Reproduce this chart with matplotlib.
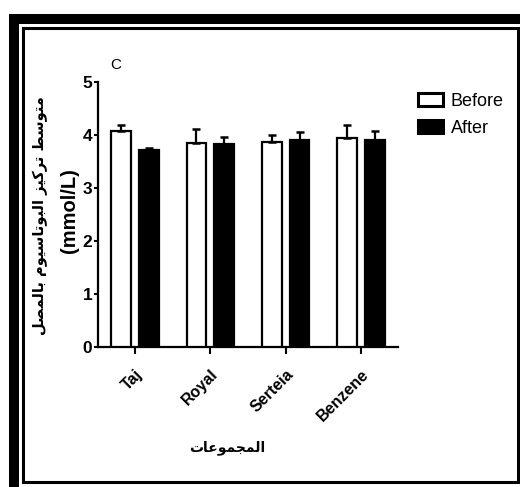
import matplotlib
matplotlib.use("Agg")
import matplotlib.pyplot as plt
import numpy as np
from matplotlib.patches import Rectangle

# data
groups = ["Taj", "Royal", "Serteia", "Benzene"]
before = [4.07, 3.84, 3.87, 3.95]
before_err = [0.12, 0.27, 0.13, 0.24]
after = [3.71, 3.83, 3.91, 3.91]
after_err = [0.05, 0.14, 0.15, 0.17]
series_labels = ["Before", "After"]
ylabel_ar = "متوسط تركيز البوتاسيوم بالمصل"
ylabel_unit = "(mmol/L)"
xlabel_ar = "المجموعات"
panel = "C"

# minimal Arabic shaping: (isolated, final, initial, medial)
FORMS = {
    "ا": (0xFE8D, 0xFE8E, None, None),
    "ب": (0xFE8F, 0xFE90, 0xFE91, 0xFE92),
    "ت": (0xFE95, 0xFE96, 0xFE97, 0xFE98),
    "ج": (0xFE9D, 0xFE9E, 0xFE9F, 0xFEA0),
    "ر": (0xFEAD, 0xFEAE, None, None),
    "ز": (0xFEAF, 0xFEB0, None, None),
    "س": (0xFEB1, 0xFEB2, 0xFEB3, 0xFEB4),
    "ص": (0xFEB9, 0xFEBA, 0xFEBB, 0xFEBC),
    "ط": (0xFEC1, 0xFEC2, 0xFEC3, 0xFEC4),
    "ع": (0xFEC9, 0xFECA, 0xFECB, 0xFECC),
    "ك": (0xFED9, 0xFEDA, 0xFEDB, 0xFEDC),
    "ل": (0xFEDD, 0xFEDE, 0xFEDF, 0xFEE0),
    "م": (0xFEE1, 0xFEE2, 0xFEE3, 0xFEE4),
    "و": (0xFEED, 0xFEEE, None, None),
    "ي": (0xFEF1, 0xFEF2, 0xFEF3, 0xFEF4),
}


def shape_ar(text):
    out = []
    for i, ch in enumerate(text):
        if ch not in FORMS:
            out.append(ch)
            continue
        iso, fin, ini, med = FORMS[ch]
        prev = text[i - 1] if i > 0 else ""
        nxt = text[i + 1] if i + 1 < len(text) else ""
        joins_prev = prev in FORMS and FORMS[prev][2] is not None
        joins_next = nxt in FORMS and ini is not None
        if joins_prev and joins_next:
            code = med
        elif joins_prev:
            code = fin
        elif joins_next:
            code = ini
        else:
            code = iso
        out.append(chr(code))
    return "".join(out)[::-1]


W, H = 520, 487
fig = plt.figure(figsize=(W / 100, H / 100), dpi=100)
ax = fig.add_axes([98 / W, 1 - 347 / H, 300 / W, 265 / H])

x = np.arange(len(groups))
bw = 0.26
off = 0.185
kw = dict(capsize=3.2, error_kw=dict(elinewidth=1.6, capthick=1.8, ecolor="black"),
          edgecolor="black", linewidth=1.6, zorder=3)
b1 = ax.bar(x - off, before, bw, yerr=[np.zeros(4), before_err], color="white",
            label=series_labels[0], **kw)
b2 = ax.bar(x + off, after, bw, yerr=[np.zeros(4), after_err], color="black",
            label=series_labels[1], **kw)

ax.set_xlim(-0.49, 3.49)
ax.set_ylim(0, 5)
ax.set_yticks([0, 1, 2, 3, 4, 5])
ax.set_xticks(x)
ax.set_xticklabels(groups, rotation=45, ha="right", va="top", rotation_mode="anchor",
                   family="Liberation Sans", fontweight="bold", fontsize=11.5)
for lab in ax.get_yticklabels():
    lab.set_family("Liberation Sans")
    lab.set_fontweight("bold")
    lab.set_fontsize(12.5)
ax.tick_params(axis="y", length=3, width=1.5, pad=1)
ax.tick_params(axis="x", length=5, width=1.5, pad=9)
for s in ["top", "right"]:
    ax.spines[s].set_visible(False)
for s in ["left", "bottom"]:
    ax.spines[s].set_linewidth(1.6)

leg = ax.legend(handles=[b1, b2], loc="upper left", bbox_to_anchor=(409 / W, 1 - 84 / H),
                bbox_transform=fig.transFigure, frameon=False, borderpad=0,
                handlelength=1.4, handleheight=0.75, handletextpad=0.4,
                labelspacing=0.55, prop=dict(family="Liberation Sans", size=13))
for p in leg.get_patches():
    p.set_linewidth(2.2)

fig.text(116 / W, 1 - 65 / H, panel, family="Liberation Sans", fontsize=11,
         ha="center", va="center")
fig.text(40 / W, 1 - 216 / H, shape_ar(ylabel_ar), rotation=90, family="DejaVu Sans",
         fontweight="bold", fontsize=10.5, ha="center", va="center")
fig.text(69 / W, 1 - 211 / H, ylabel_unit, rotation=90, family="Liberation Sans",
         fontweight="bold", fontsize=14.5, ha="center", va="center")
fig.text(227 / W, 1 - 448 / H, shape_ar(xlabel_ar), family="DejaVu Sans",
         fontweight="bold", fontsize=10, ha="center", va="center")

# double picture frame
fig.patches.append(Rectangle((9 / W, 0), 10 / W, 1 - 14 / H, transform=fig.transFigure,
                             facecolor="black", edgecolor="none"))
fig.patches.append(Rectangle((9 / W, 1 - 24 / H), 1 - 9 / W, 10 / H, transform=fig.transFigure,
                             facecolor="black", edgecolor="none"))
fig.patches.append(Rectangle((22.5 / W, 1 - 481.5 / H), 495 / W, 454 / H,
                             transform=fig.transFigure, facecolor="none",
                             edgecolor="black", linewidth=2.2))

fig.savefig("out.png", dpi=100)
